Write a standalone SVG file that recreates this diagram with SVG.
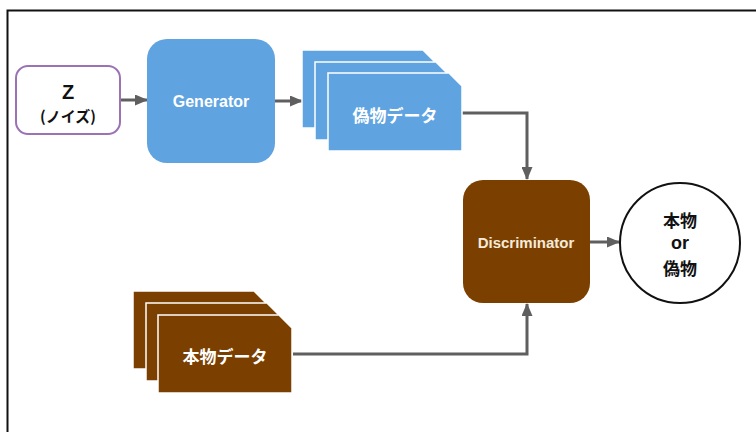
<svg xmlns="http://www.w3.org/2000/svg" width="756" height="432" viewBox="0 0 756 432">
  <defs>
    <marker id="arrow" viewBox="0 0 13 11" refX="12" refY="5.5" markerWidth="13" markerHeight="11" markerUnits="userSpaceOnUse" orient="auto">
      <path d="M0,0 L13,5.5 L0,11 Z" fill="#5f5f5f"/>
    </marker>
    <path id="card" d="M0,0 H121 L134,13 V78 H0 Z"/>
  </defs>
  <style>
    .lbl { font-family: "Liberation Sans", "Noto Sans CJK JP", sans-serif; font-weight: bold; text-anchor: middle; dominant-baseline: central; }
    .jp { font-family: "Noto Sans CJK JP", "Liberation Sans", sans-serif; font-weight: bold; text-anchor: middle; dominant-baseline: central; }
    .edge { fill: none; stroke: #5f5f5f; stroke-width: 3; marker-end: url(#arrow); }
    .blue { fill: #5fa3e0; stroke: #ffffff; stroke-width: 1.5; }
    .brown { fill: #7b3f00; stroke: #ffffff; stroke-width: 1.5; }
  </style>

  <rect width="756" height="432" fill="#ffffff"/>
  <!-- outer frame -->
  <rect x="7.5" y="10.5" width="760" height="440" fill="none" stroke="#111111" stroke-width="2"/>

  <g id="connectors">
    <line class="edge" x1="120" y1="100" x2="147" y2="100"/>
    <line class="edge" x1="275" y1="101" x2="302" y2="101"/>
    <polyline class="edge" points="462,113 527,113 527,179"/>
    <polyline class="edge" points="293,354 527,354 527,304"/>
    <line class="edge" x1="590" y1="242" x2="619" y2="242"/>
  </g>

  <g id="noise">
    <rect x="16" y="66" width="104" height="68" rx="12" fill="#ffffff" stroke="#9b72b4" stroke-width="2"/>
    <text class="lbl" x="68" y="92" font-size="20" fill="#111111">Z</text>
    <text class="jp" x="68" y="115" font-size="15" fill="#111111">(ノイズ)</text>
  </g>

  <g id="generator">
    <rect x="147" y="39" width="128" height="124" rx="20" fill="#5fa3e0"/>
    <text class="lbl" x="211" y="101" font-size="16" fill="#ffffff">Generator</text>
  </g>

  <g id="fake-data">
    <use href="#card" class="blue" x="302" y="50"/>
    <use href="#card" class="blue" x="315" y="62"/>
    <use href="#card" class="blue" x="328" y="73"/>
    <text class="jp" x="395" y="114" font-size="17" fill="#ffffff">偽物データ</text>
  </g>

  <g id="real-data">
    <use href="#card" class="brown" x="133" y="291"/>
    <use href="#card" class="brown" x="146" y="303"/>
    <use href="#card" class="brown" x="158" y="315"/>
    <text class="jp" x="225" y="355" font-size="17" fill="#ffffff">本物データ</text>
  </g>

  <g id="discriminator">
    <rect x="463" y="180" width="127" height="123" rx="20" fill="#7b3f00"/>
    <text class="lbl" x="526" y="242" font-size="15" fill="#f6ead8">Discriminator</text>
  </g>

  <g id="result">
    <circle cx="680" cy="243" r="60" fill="#ffffff" stroke="#111111" stroke-width="2"/>
    <text class="jp" x="680" y="219" font-size="17" fill="#111111">本物</text>
    <text class="lbl" x="680" y="243" font-size="18" fill="#111111">or</text>
    <text class="jp" x="680" y="267" font-size="17" fill="#111111">偽物</text>
  </g>
</svg>
